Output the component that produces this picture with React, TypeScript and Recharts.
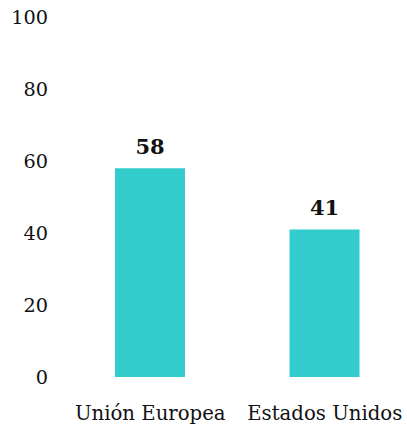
import { Bar, BarChart, LabelList, XAxis, YAxis } from "recharts";

const regions = ["Unión Europea", "Estados Unidos"];
const shares = [58, 41];
const yTicks = [0, 20, 40, 60, 80, 100];

const chartData = regions.map((name, i) => ({ name, value: shares[i] }));

const font = "'DejaVu Serif', serif";

function App() {
  return (
    <div
      style={{
        position: "absolute",
        left: 0,
        top: 0,
        width: 407,
        height: 425,
        overflow: "hidden",
        background: "#fff",
      }}
    >
      <BarChart
        width={420}
        height={425}
        data={chartData}
        margin={{ top: 17, right: 0, bottom: 0, left: 0 }}
      >
        <XAxis
          dataKey="name"
          axisLine={false}
          tickLine={false}
          height={48}
          tickMargin={23}
          padding={{ left: 7, right: 8 }}
          tick={{ fill: "#111", fontSize: 19.7, fontFamily: font }}
          interval={0}
        />
        <YAxis
          domain={[0, 100]}
          ticks={yTicks}
          axisLine={false}
          tickLine={false}
          width={56}
          tick={{ fill: "#111", fontSize: 19.3, fontFamily: font }}
        />
        <Bar dataKey="value" fill="#33CCCC" barSize={70} isAnimationActive={false}>
          <LabelList
            dataKey="value"
            position="top"
            offset={14}
            fill="#111"
            fontSize={21}
            fontWeight="bold"
            fontFamily={font}
          />
        </Bar>
      </BarChart>
    </div>
  );
}

export default App;
